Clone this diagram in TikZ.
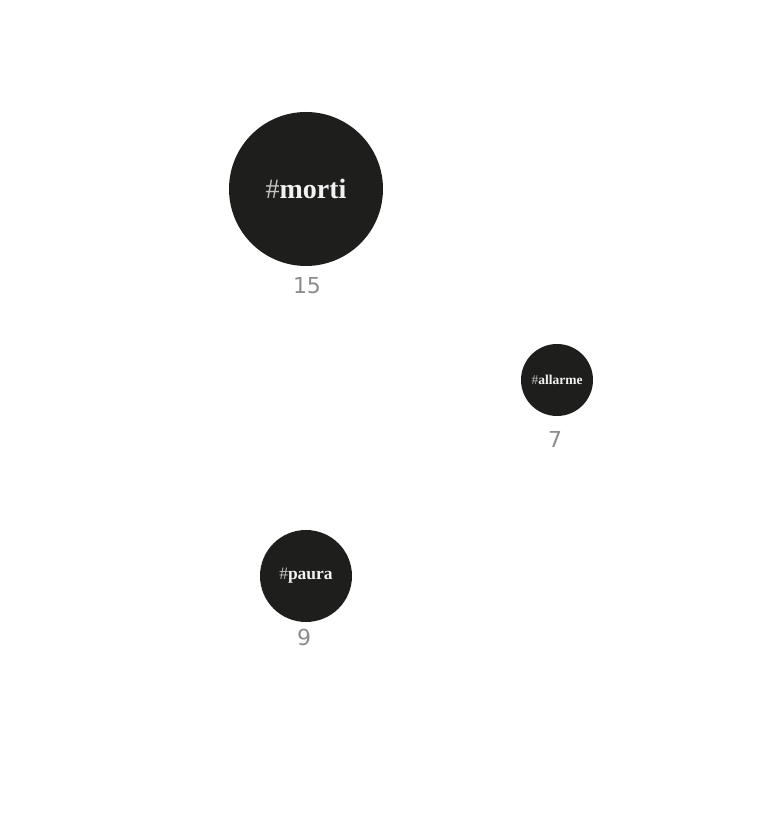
\documentclass[tikz,border=0pt]{standalone}
\usepackage{fontspec}
\setmainfont{Liberation Serif}
\newfontfamily\numfont{DejaVu Sans}
\definecolor{bubble}{HTML}{1E1E1C}
\definecolor{hashgray}{HTML}{C4C4C4}
\definecolor{tagwhite}{HTML}{F2F2F2}
\definecolor{numgray}{HTML}{8C8C8C}
\begin{document}
\begin{tikzpicture}[x=1pt,y=1pt,
  bubblenode/.style={circle,fill=bubble,inner sep=0pt,text=tagwhite,font=\bfseries},
  countlabel/.style={inner sep=0pt,text=numgray,font=\numfont\fontsize{22}{22}\selectfont}]
\useasboundingbox (0,0) rectangle (772,835);
\newcommand{\hashtag}[1]{{\mdseries\color{hashgray}\#}#1}
\node[bubblenode,minimum size=154pt,font=\bfseries\fontsize{28}{28}\selectfont] (morti) at (306,646) {\hashtag{morti}};
\node[bubblenode,minimum size=72pt,font=\bfseries\fontsize{13.5}{13.5}\selectfont] (allarme) at (557,455) {\hashtag{allarme}};
\node[bubblenode,minimum size=92pt,font=\bfseries\fontsize{17.5}{17.5}\selectfont] (paura) at (306,259) {\hashtag{paura}};
\node[countlabel] (n15) at (307,549) {15};
\node[countlabel] (n7) at (555,396) {7};
\node[countlabel] (n9) at (304,198) {9};
\end{tikzpicture}
\end{document}
